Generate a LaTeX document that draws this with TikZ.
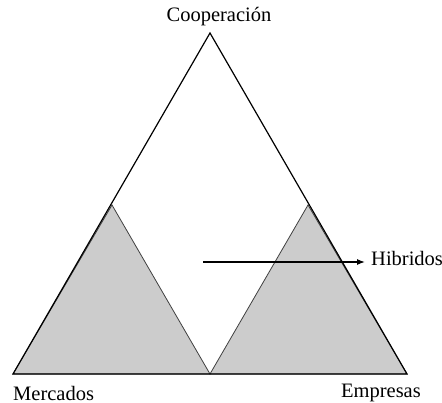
\documentclass[tikz,border=0pt]{standalone}
\usepackage{fontspec}
\setmainfont{Liberation Serif}
\usetikzlibrary{arrows.meta}
\begin{document}
\begin{tikzpicture}[x=1pt,y=-1pt,
  lbl/.style={inner sep=0pt,font=\fontsize{20.5}{24}\selectfont},
  edge/.style={line width=1.2pt,black},
  shade/.style={fill=black!20,draw=black!75,line width=0.8pt}]
\useasboundingbox (0,0) rectangle (442,403);
% corners
\coordinate (top) at (210,33);
\coordinate (bl) at (13,374);
\coordinate (br) at (407,374);
\coordinate (bm) at (210,374);
\coordinate (la) at (112,205);
\coordinate (ra) at (308,205);
% shaded triangles
\draw[shade] (bl) -- (la) -- (bm) -- cycle;
\draw[shade] (bm) -- (ra) -- (br) -- cycle;
% large triangle
\draw[edge,line join=miter] (bl) -- (top) -- (br) -- cycle;
% labels
\node[lbl,anchor=base] (coop) at (219,22) {Cooperación};
\node[lbl,anchor=base west] (merc) at (13,400) {Mercados};
\node[lbl,anchor=base east] (emp) at (421,397) {Empresas};
\node[lbl,anchor=base west] (hib) at (371,266) {Hibridos};
% arrow
\coordinate (as) at (203,262);
\draw[line width=1.2pt,-{Latex[length=8pt,width=6pt]}] (as) -- ([xshift=-6pt]as -| hib.west);
\end{tikzpicture}
\end{document}
